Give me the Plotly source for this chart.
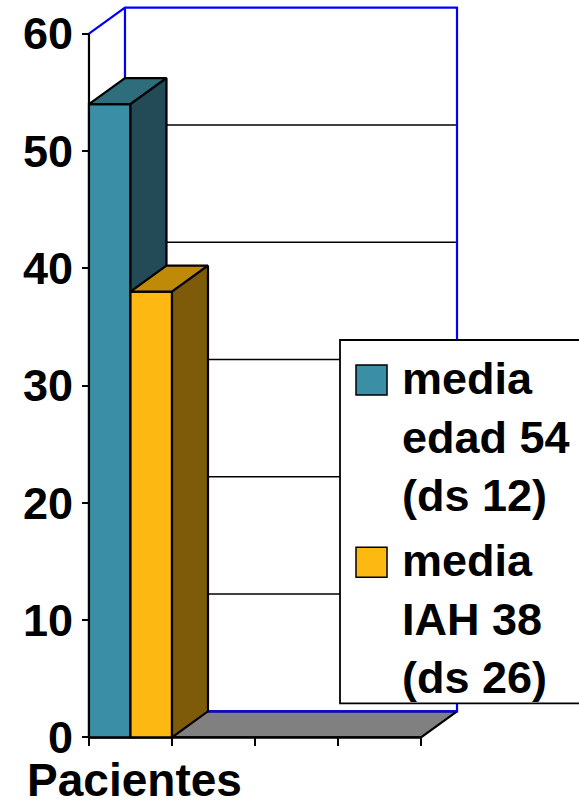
import plotly.graph_objects as go

# ---------------- data ----------------
categories = ["Pacientes"]
series_labels = ["media<br>edad 54<br>(ds 12)", "media<br>IAH 38<br>(ds 26)"]
series_values = [54, 38]
y_ticks = [0, 10, 20, 30, 40, 50, 60]
n_slots = 4  # category slots on the x axis (only the first is used)

front_colors = ["#3A8FA7", "#FDB812"]
top_colors = ["#2E6E7C", "#C08A09"]
side_colors = ["#224A57", "#7E5B08"]
floor_color = "#808080"
frame_blue = "#0000FF"

FONT = "Liberation Sans, Arial, sans-serif"

# ---------------- geometry (layout) ----------------
W, H = 579, 806
X0PX, Y0PX = 89, 737       # pixel location of data origin
KX = 83.0                  # px per x unit
KY = 11.717                # px per y unit
DX = 36 / KX               # 3-D depth offset in x units
DY = 26 / KY               # 3-D depth offset in y units
PADX, PADY = 0.06, 0.4

ymax = max(y_ticks)
xlo, xhi = -PADX, n_slots + DX + PADX
ylo, yhi = -PADY, ymax + DY + PADY

l = X0PX + xlo * KX
pw = (xhi - xlo) * KX
r = W - l - pw
b = H - (Y0PX - ylo * KY)
ph = (yhi - ylo) * KY
t = H - b - ph


def px2paper_x(px):
    return (px - l) / pw


def px2paper_y(py):
    return (H - b - py) / ph


fig = go.Figure()


def poly(xs, ys, fill, line_color="black", width=2.2):
    fig.add_trace(go.Scatter(
        x=list(xs) + [xs[0]], y=list(ys) + [ys[0]],
        mode="lines", fill="toself", fillcolor=fill,
        line=dict(color=line_color, width=width),
        hoverinfo="skip", showlegend=False))


def seg(xs, ys, color="black", width=2):
    fig.add_trace(go.Scatter(
        x=xs, y=ys, mode="lines",
        line=dict(color=color, width=width),
        hoverinfo="skip", showlegend=False))


# back-wall gridlines
for v in y_ticks[1:-1]:
    seg([DX, n_slots + DX], [v + DY, v + DY], "black", 1.6)

# floor
poly([0, n_slots, n_slots + DX, DX], [0, 0, DY, DY], floor_color)

# blue frame of the walls
seg([0, DX, n_slots + DX, n_slots + DX, DX, DX],
    [ymax, ymax + DY, ymax + DY, DY, DY, ymax + DY], frame_blue, 2.2)

# axis lines
seg([0, 0], [0, ymax], "black", 2.2)
seg([0, n_slots], [0, 0], "black", 2.2)

# bars
nser = len(series_values)
bw = 1.0 / nser
for i, v in enumerate(series_values):
    x0 = i * bw
    x1 = x0 + bw
    poly([x0, x1, x1, x0], [0, 0, v, v], front_colors[i])
    poly([x0, x1, x1 + DX, x0 + DX], [v, v, v + DY, v + DY], top_colors[i])
    poly([x1, x1 + DX, x1 + DX, x1], [0, DY, v + DY, v], side_colors[i])

# ---------------- axes ----------------
fig.update_xaxes(
    range=[xlo, xhi], anchor="free", automargin=False,
    position=(0 - ylo) / (yhi - ylo),
    showgrid=False, zeroline=False, showline=False,
    tickvals=[0.5], ticktext=categories, ticks="",
    ticklabelstandoff=12, ticklabelshift=4,
    tickfont=dict(family=FONT, size=46, color="black", weight="bold"),
    minor=dict(tickvals=list(range(n_slots + 1)), ticks="outside",
               ticklen=8, tickwidth=2.2, tickcolor="black", showgrid=False),
    fixedrange=True)
fig.update_yaxes(
    range=[ylo, yhi], anchor="free", automargin=False,
    position=(0 - xlo) / (xhi - xlo),
    showgrid=False, zeroline=False, showline=False,
    tickvals=y_ticks, ticks="outside", ticklen=7, tickwidth=2.2,
    tickcolor="black",
    tickfont=dict(family=FONT, size=45, color="black", weight="bold"),
    fixedrange=True)

# ---------------- legend (drawn manually for large swatches) ----------------
shapes = [dict(type="rect", xref="paper", yref="paper",
               x0=px2paper_x(340), x1=px2paper_x(600),
               y0=px2paper_y(703), y1=px2paper_y(340),
               line=dict(color="black", width=1.8), fillcolor="white",
               layer="above")]
swatch_tops = [365, 547]
text_mid = [437, 619]
annotations = []
for i in range(nser):
    shapes.append(dict(type="rect", xref="paper", yref="paper",
                       x0=px2paper_x(356), x1=px2paper_x(387),
                       y0=px2paper_y(swatch_tops[i] + 30),
                       y1=px2paper_y(swatch_tops[i]),
                       line=dict(color="black", width=1.5),
                       fillcolor=front_colors[i], layer="above"))
    annotations.append(dict(
        xref="paper", yref="paper", x=px2paper_x(400), y=px2paper_y(text_mid[i]),
        xanchor="left", yanchor="middle", align="left", showarrow=False,
        text=series_labels[i],
        font=dict(family=FONT, size=45, color="black", weight="bold")))

fig.update_layout(
    width=W, height=H,
    margin=dict(l=l, r=r, t=t, b=b, pad=0, autoexpand=False),
    paper_bgcolor="white", plot_bgcolor="white",
    showlegend=False,
    shapes=shapes, annotations=annotations)

fig.write_html(
    "out.html",
    config={"displayModeBar": False},
    post_script="document.body.style.margin='0';"
                "document.body.style.overflow='hidden';")
